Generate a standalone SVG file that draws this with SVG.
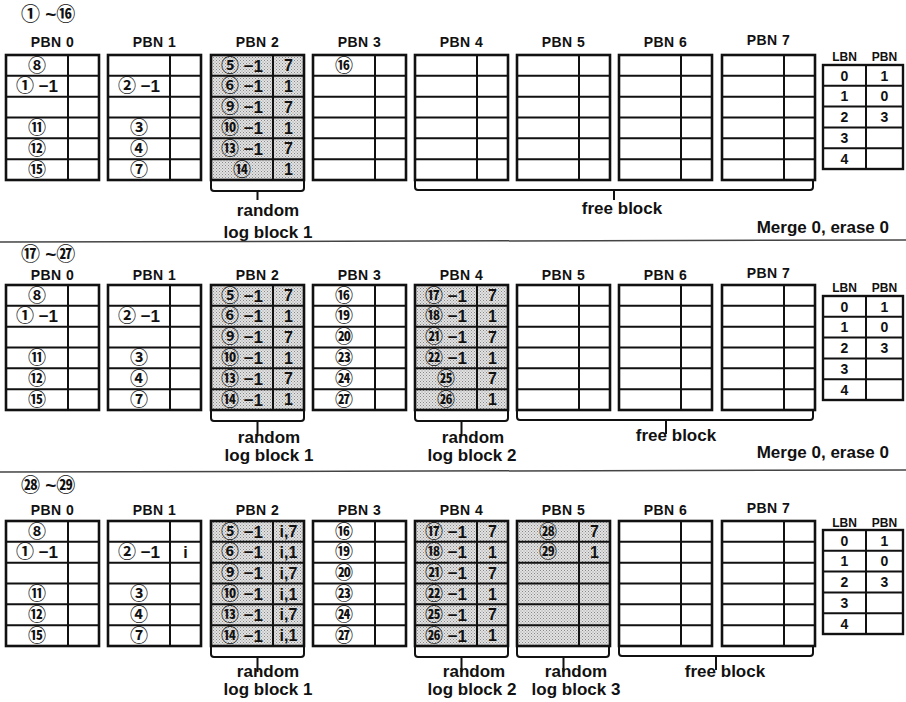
<svg xmlns="http://www.w3.org/2000/svg" xmlns:xlink="http://www.w3.org/1999/xlink" width="906" height="702" viewBox="0 0 906 702">
<style>
.t{font-family:"Liberation Sans","Noto Sans CJK JP",sans-serif;font-weight:bold;fill:#111}
.lb{font-size:14px;text-anchor:middle;letter-spacing:0.5px}
.c{font-size:18px;text-anchor:middle}
.n{font-size:17px}
.v{font-size:16px;text-anchor:middle}
.cap{font-size:17px;text-anchor:middle}
.hd{font-size:19px}
.sm{font-size:12px;text-anchor:middle}
.mp{font-size:14px;text-anchor:middle}
.br{fill:none;stroke:#111;stroke-width:2}
.sep{stroke:#444;stroke-width:1.5}
</style>
<defs>
<pattern id="dots" width="3" height="3" patternUnits="userSpaceOnUse"><rect width="3" height="3" fill="#e2e2e2"/><rect width="1" height="1" fill="#888"/><rect x="1.5" y="1.5" width="1" height="1" fill="#999"/></pattern>
<g id="grid"><rect x="0" y="0" width="93" height="125" fill="none" stroke="#111" stroke-width="2.6"/><path d="M62 0V125M0 20.83H93M0 41.67H93M0 62.5H93M0 83.33H93M0 104.17H93" stroke="#111" stroke-width="2" fill="none"/></g>
<g id="map"><rect x="0" y="0" width="80" height="104" fill="none" stroke="#111" stroke-width="2.4"/><path d="M43 0V104M0 20.8H80M0 41.6H80M0 62.4H80M0 83.2H80" stroke="#111" stroke-width="2" fill="none"/></g>
</defs>
<rect width="906" height="702" fill="#fff"/>

<!-- Section 1 -->
<text class="t hd" x="21" y="21">① ~⑯</text>
<g id="s1-pbn0"><text class="t lb" x="52.5" y="47">PBN 0</text><use href="#grid" x="6" y="55"/>
<text class="t c" x="37" y="71.5">⑧</text><text class="t c" x="37" y="92.3">①<tspan class="n"> −1</tspan></text><text class="t c" x="37" y="134">⑪</text><text class="t c" x="37" y="154.8">⑫</text><text class="t c" x="37" y="175.7">⑮</text></g>
<g id="s1-pbn1"><text class="t lb" x="154.5" y="47">PBN 1</text><use href="#grid" x="108" y="55"/>
<text class="t c" x="139" y="92.3">②<tspan class="n"> −1</tspan></text><text class="t c" x="139" y="134">③</text><text class="t c" x="139" y="154.8">④</text><text class="t c" x="139" y="175.7">⑦</text></g>
<g id="s1-pbn2"><text class="t lb" x="257.5" y="47">PBN 2</text><rect x="211" y="55" width="93" height="125" fill="url(#dots)"/><use href="#grid" x="211" y="55"/>
<text class="t c" x="242" y="71.5">⑤<tspan class="n"> −1</tspan></text><text class="t c" x="242" y="92.3">⑥<tspan class="n"> −1</tspan></text><text class="t c" x="242" y="113.2">⑨<tspan class="n"> −1</tspan></text><text class="t c" x="242" y="134">⑩<tspan class="n"> −1</tspan></text><text class="t c" x="242" y="154.8">⑬<tspan class="n"> −1</tspan></text><text class="t c" x="242" y="175.7">⑭</text>
<text class="t v" x="288.5" y="71">7</text><text class="t v" x="288.5" y="91.8">1</text><text class="t v" x="288.5" y="112.7">7</text><text class="t v" x="288.5" y="133.5">1</text><text class="t v" x="288.5" y="154.3">7</text><text class="t v" x="288.5" y="175.2">1</text></g>
<g id="s1-pbn3"><text class="t lb" x="359.5" y="47">PBN 3</text><use href="#grid" x="313" y="55"/><text class="t c" x="344" y="71.5">⑯</text></g>
<g id="s1-pbn4"><text class="t lb" x="461.5" y="47">PBN 4</text><use href="#grid" x="415" y="55"/></g>
<g id="s1-pbn5"><text class="t lb" x="563.5" y="47">PBN 5</text><use href="#grid" x="517" y="55"/></g>
<g id="s1-pbn6"><text class="t lb" x="665.5" y="47">PBN 6</text><use href="#grid" x="619" y="55"/></g>
<g id="s1-pbn7"><text class="t lb" x="768.5" y="45">PBN 7</text><use href="#grid" x="722" y="55"/></g>
<g id="s1-map"><text class="t sm" x="844.5" y="61">LBN</text><text class="t sm" x="884.5" y="61">PBN</text><use href="#map" x="823" y="65"/>
<text class="t mp" x="844.5" y="80.5">0</text><text class="t mp" x="844.5" y="101.3">1</text><text class="t mp" x="844.5" y="122.1">2</text><text class="t mp" x="844.5" y="142.9">3</text><text class="t mp" x="844.5" y="163.7">4</text>
<text class="t mp" x="884.5" y="80.5">1</text><text class="t mp" x="884.5" y="101.3">0</text><text class="t mp" x="884.5" y="122.1">3</text></g>
<g id="s1-labels"><text class="t cap" x="268" y="216">random</text><text class="t cap" x="268" y="238">log block 1</text><text class="t cap" x="622" y="214">free block</text><text class="t cap" x="889" y="233" style="text-anchor:end">Merge 0, erase 0</text></g>

<!-- Section 2 -->
<text class="t hd" x="21" y="261">⑰ ~㉗</text>
<g id="s2-pbn0"><text class="t lb" x="52.5" y="280">PBN 0</text><use href="#grid" x="6" y="285"/>
<text class="t c" x="37" y="301.5">⑧</text><text class="t c" x="37" y="322.3">①<tspan class="n"> −1</tspan></text><text class="t c" x="37" y="364">⑪</text><text class="t c" x="37" y="384.8">⑫</text><text class="t c" x="37" y="405.7">⑮</text></g>
<g id="s2-pbn1"><text class="t lb" x="154.5" y="280">PBN 1</text><use href="#grid" x="108" y="285"/>
<text class="t c" x="139" y="322.3">②<tspan class="n"> −1</tspan></text><text class="t c" x="139" y="364">③</text><text class="t c" x="139" y="384.8">④</text><text class="t c" x="139" y="405.7">⑦</text></g>
<g id="s2-pbn2"><text class="t lb" x="257.5" y="280">PBN 2</text><rect x="211" y="285" width="93" height="125" fill="url(#dots)"/><use href="#grid" x="211" y="285"/>
<text class="t c" x="242" y="301.5">⑤<tspan class="n"> −1</tspan></text><text class="t c" x="242" y="322.3">⑥<tspan class="n"> −1</tspan></text><text class="t c" x="242" y="343.2">⑨<tspan class="n"> −1</tspan></text><text class="t c" x="242" y="364">⑩<tspan class="n"> −1</tspan></text><text class="t c" x="242" y="384.8">⑬<tspan class="n"> −1</tspan></text><text class="t c" x="242" y="405.7">⑭<tspan class="n"> −1</tspan></text>
<text class="t v" x="288.5" y="301">7</text><text class="t v" x="288.5" y="321.8">1</text><text class="t v" x="288.5" y="342.7">7</text><text class="t v" x="288.5" y="363.5">1</text><text class="t v" x="288.5" y="384.3">7</text><text class="t v" x="288.5" y="405.2">1</text></g>
<g id="s2-pbn3"><text class="t lb" x="359.5" y="280">PBN 3</text><use href="#grid" x="313" y="285"/>
<text class="t c" x="344" y="301.5">⑯</text><text class="t c" x="344" y="322.3">⑲</text><text class="t c" x="344" y="343.2">⑳</text><text class="t c" x="344" y="364">㉓</text><text class="t c" x="344" y="384.8">㉔</text><text class="t c" x="344" y="405.7">㉗</text></g>
<g id="s2-pbn4"><text class="t lb" x="461.5" y="280">PBN 4</text><rect x="415" y="285" width="93" height="125" fill="url(#dots)"/><use href="#grid" x="415" y="285"/>
<text class="t c" x="446" y="301.5">⑰<tspan class="n"> −1</tspan></text><text class="t c" x="446" y="322.3">⑱<tspan class="n"> −1</tspan></text><text class="t c" x="446" y="343.2">㉑<tspan class="n"> −1</tspan></text><text class="t c" x="446" y="364">㉒<tspan class="n"> −1</tspan></text><text class="t c" x="446" y="384.8">㉕</text><text class="t c" x="446" y="405.7">㉖</text>
<text class="t v" x="492.5" y="301">7</text><text class="t v" x="492.5" y="321.8">1</text><text class="t v" x="492.5" y="342.7">7</text><text class="t v" x="492.5" y="363.5">1</text><text class="t v" x="492.5" y="384.3">7</text><text class="t v" x="492.5" y="405.2">1</text></g>
<g id="s2-pbn5"><text class="t lb" x="563.5" y="280">PBN 5</text><use href="#grid" x="517" y="285"/></g>
<g id="s2-pbn6"><text class="t lb" x="665.5" y="280">PBN 6</text><use href="#grid" x="619" y="285"/></g>
<g id="s2-pbn7"><text class="t lb" x="768.5" y="278">PBN 7</text><use href="#grid" x="722" y="285"/></g>
<g id="s2-map"><text class="t sm" x="844.5" y="292">LBN</text><text class="t sm" x="884.5" y="292">PBN</text><use href="#map" x="823" y="296"/>
<text class="t mp" x="844.5" y="311.5">0</text><text class="t mp" x="844.5" y="332.3">1</text><text class="t mp" x="844.5" y="353.1">2</text><text class="t mp" x="844.5" y="373.9">3</text><text class="t mp" x="844.5" y="394.7">4</text>
<text class="t mp" x="884.5" y="311.5">1</text><text class="t mp" x="884.5" y="332.3">0</text><text class="t mp" x="884.5" y="353.1">3</text></g>
<g id="s2-labels"><text class="t cap" x="269" y="443">random</text><text class="t cap" x="269" y="461">log block 1</text><text class="t cap" x="473" y="443">random</text><text class="t cap" x="472" y="461">log block 2</text><text class="t cap" x="676" y="441">free block</text><text class="t cap" x="889" y="458" style="text-anchor:end">Merge 0, erase 0</text></g>

<!-- Section 3 -->
<text class="t hd" x="21" y="492">㉘ ~㉙</text>
<g id="s3-pbn0"><text class="t lb" x="52.5" y="515">PBN 0</text><use href="#grid" x="6" y="521"/>
<text class="t c" x="37" y="537.5">⑧</text><text class="t c" x="37" y="558.3">①<tspan class="n"> −1</tspan></text><text class="t c" x="37" y="600">⑪</text><text class="t c" x="37" y="620.8">⑫</text><text class="t c" x="37" y="641.7">⑮</text></g>
<g id="s3-pbn1"><text class="t lb" x="154.5" y="515">PBN 1</text><use href="#grid" x="108" y="521"/>
<text class="t c" x="139" y="558.3">②<tspan class="n"> −1</tspan></text><text class="t c" x="139" y="600">③</text><text class="t c" x="139" y="620.8">④</text><text class="t c" x="139" y="641.7">⑦</text><text class="t v" x="185.5" y="557.8">i</text></g>
<g id="s3-pbn2"><text class="t lb" x="257.5" y="515">PBN 2</text><rect x="211" y="521" width="93" height="125" fill="url(#dots)"/><use href="#grid" x="211" y="521"/>
<text class="t c" x="242" y="537.5">⑤<tspan class="n"> −1</tspan></text><text class="t c" x="242" y="558.3">⑥<tspan class="n"> −1</tspan></text><text class="t c" x="242" y="579.2">⑨<tspan class="n"> −1</tspan></text><text class="t c" x="242" y="600">⑩<tspan class="n"> −1</tspan></text><text class="t c" x="242" y="620.8">⑬<tspan class="n"> −1</tspan></text><text class="t c" x="242" y="641.7">⑭<tspan class="n"> −1</tspan></text>
<text class="t v" x="288.5" y="537">i,7</text><text class="t v" x="288.5" y="557.8">i,1</text><text class="t v" x="288.5" y="578.7">i,7</text><text class="t v" x="288.5" y="599.5">i,1</text><text class="t v" x="288.5" y="620.3">i,7</text><text class="t v" x="288.5" y="641.2">i,1</text></g>
<g id="s3-pbn3"><text class="t lb" x="359.5" y="515">PBN 3</text><use href="#grid" x="313" y="521"/>
<text class="t c" x="344" y="537.5">⑯</text><text class="t c" x="344" y="558.3">⑲</text><text class="t c" x="344" y="579.2">⑳</text><text class="t c" x="344" y="600">㉓</text><text class="t c" x="344" y="620.8">㉔</text><text class="t c" x="344" y="641.7">㉗</text></g>
<g id="s3-pbn4"><text class="t lb" x="461.5" y="515">PBN 4</text><rect x="415" y="521" width="93" height="125" fill="url(#dots)"/><use href="#grid" x="415" y="521"/>
<text class="t c" x="446" y="537.5">⑰<tspan class="n"> −1</tspan></text><text class="t c" x="446" y="558.3">⑱<tspan class="n"> −1</tspan></text><text class="t c" x="446" y="579.2">㉑<tspan class="n"> −1</tspan></text><text class="t c" x="446" y="600">㉒<tspan class="n"> −1</tspan></text><text class="t c" x="446" y="620.8">㉕<tspan class="n"> −1</tspan></text><text class="t c" x="446" y="641.7">㉖<tspan class="n"> −1</tspan></text>
<text class="t v" x="492.5" y="537">7</text><text class="t v" x="492.5" y="557.8">1</text><text class="t v" x="492.5" y="578.7">7</text><text class="t v" x="492.5" y="599.5">1</text><text class="t v" x="492.5" y="620.3">7</text><text class="t v" x="492.5" y="641.2">1</text></g>
<g id="s3-pbn5"><text class="t lb" x="563.5" y="515">PBN 5</text><rect x="517" y="521" width="93" height="125" fill="url(#dots)"/><use href="#grid" x="517" y="521"/>
<text class="t c" x="548" y="537.5">㉘</text><text class="t c" x="548" y="558.3">㉙</text><text class="t v" x="594.5" y="537">7</text><text class="t v" x="594.5" y="557.8">1</text></g>
<g id="s3-pbn6"><text class="t lb" x="665.5" y="515">PBN 6</text><use href="#grid" x="619" y="521"/></g>
<g id="s3-pbn7"><text class="t lb" x="768.5" y="513">PBN 7</text><use href="#grid" x="722" y="521"/></g>
<g id="s3-map"><text class="t sm" x="844.5" y="527">LBN</text><text class="t sm" x="884.5" y="527">PBN</text><use href="#map" x="823" y="530"/>
<text class="t mp" x="844.5" y="545.5">0</text><text class="t mp" x="844.5" y="566.3">1</text><text class="t mp" x="844.5" y="587.1">2</text><text class="t mp" x="844.5" y="607.9">3</text><text class="t mp" x="844.5" y="628.7">4</text>
<text class="t mp" x="884.5" y="545.5">1</text><text class="t mp" x="884.5" y="566.3">0</text><text class="t mp" x="884.5" y="587.1">3</text></g>
<g id="s3-labels"><text class="t cap" x="268" y="677">random</text><text class="t cap" x="268" y="695">log block 1</text><text class="t cap" x="474" y="677">random</text><text class="t cap" x="472" y="695">log block 2</text><text class="t cap" x="576" y="677">random</text><text class="t cap" x="576" y="695">log block 3</text><text class="t cap" x="725" y="677">free block</text></g>

<g id="connectors">
<path class="br" d="M211 181V188Q211 191 214 191H301Q304 191 304 188V181M257.5 191V200"/>
<path class="br" d="M415 181V187Q415 190 418 190H810Q813 190 813 187V179M614 190V200"/>
<path class="br" d="M211 411V418Q211 421 214 421H301Q304 421 304 418V411M257.5 421V436"/>
<path class="br" d="M415 411V418Q415 421 418 421H505Q508 421 508 418V411M461.5 421V436"/>
<path class="br" d="M517 411V417Q517 420 520 420H810Q813 420 813 417V411M666 420V434"/>
<path class="br" d="M211 647V654Q211 657 214 657H301Q304 657 304 654V647M257.5 657V672"/>
<path class="br" d="M415 647V654Q415 657 418 657H505Q508 657 508 654V647M461.5 657V672"/>
<path class="br" d="M517 647V654Q517 657 520 657H606Q609 657 609 654V647M563.5 657V672"/>
<path class="br" d="M619 647V653Q619 656 622 656H810Q813 656 813 653V647M716 656V670"/>
</g>
<line class="sep" x1="0" y1="242" x2="906" y2="240"/>
<line class="sep" x1="0" y1="472" x2="906" y2="470"/>
</svg>
